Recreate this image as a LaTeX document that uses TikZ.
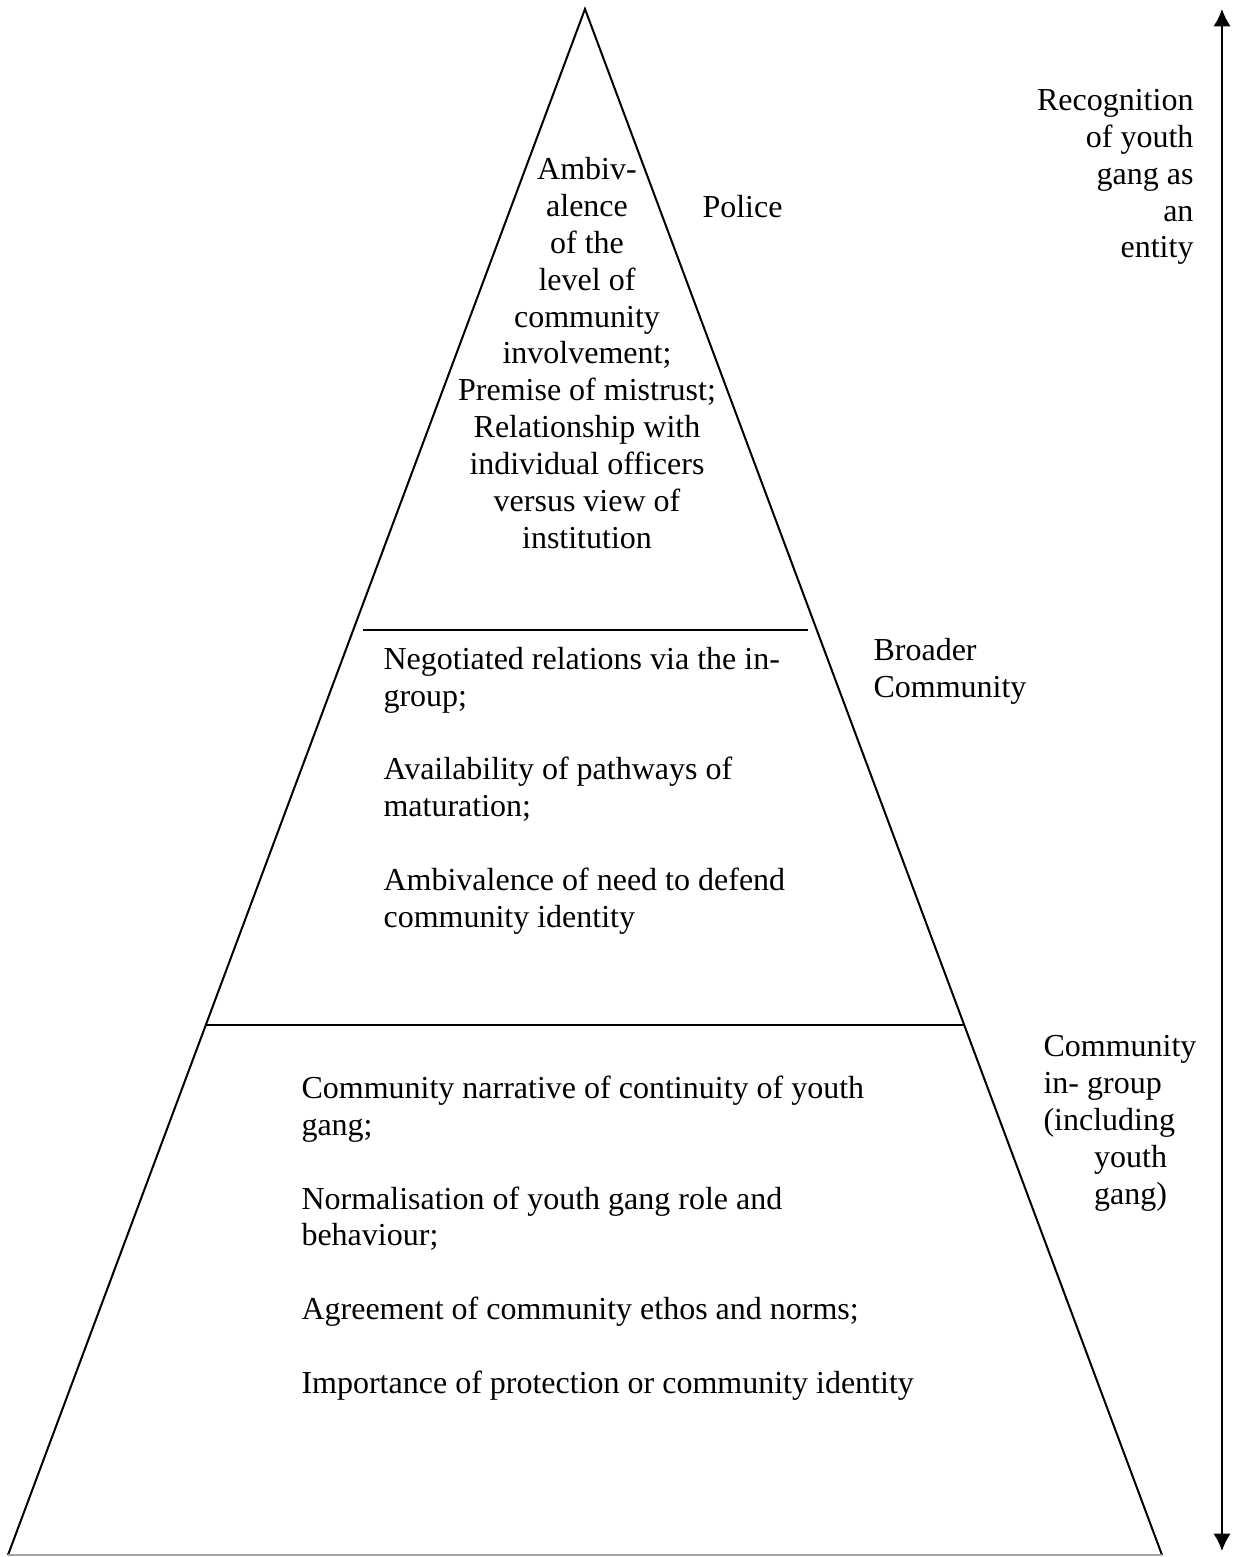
\documentclass[tikz,border=0pt]{standalone}
\usepackage{fontspec}
\setmainfont{Liberation Serif}
\usetikzlibrary{arrows.meta}

\tikzset{
    label text/.style={inner sep=0pt, font=\fontsize{12}{13.8}\selectfont},
    side/.style={line width=0.75pt, black},
}

\begin{document}
\begin{tikzpicture}[x=0.375pt, y=-0.375pt]
            \useasboundingbox (0,0) rectangle (1239,1557);
            % pyramid corners
            \coordinate (apex) at (585,9);
            \coordinate (bl) at (8,1555);
            \coordinate (br) at (1162,1555);
            \coordinate (midl) at (363,630);
            \coordinate (midr) at (808,630);
            \coordinate (lowl) at (206,1025);
            \coordinate (lowr) at (963,1025);
            \coordinate (top) at (1222,9);
            \coordinate (bottom) at (1222,1551);

            \draw[side] (bl) -- (apex) -- (br);
            \draw[line width=0.75pt, gray!70] (bl) -- (br);
            \draw[side] (midl) -- (midr);
            \draw[side] (lowl) -- (lowr);
            \draw[{Latex[length=6.5pt,width=6.5pt]}-{Latex[length=6.5pt,width=6.5pt]}, line width=0.75pt] (top) -- (bottom);

            % texts inside (base = last line)
            \node[label text, anchor=base, align=center] (police text) at (587,548)
                {Ambiv-\\alence\\of the\\level of\\community\\involvement;\\Premise of mistrust;\\Relationship with\\individual officers\\versus view of\\institution};
            \node[label text, anchor=base west, align=left] (broader text) at (383,927)
                {Negotiated relations via the in-\\group;\\[13.8pt]Availability of pathways of\\maturation;\\[13.8pt]Ambivalence of need to defend\\community identity};
            \node[label text, anchor=base west, align=left] (ingroup text) at (301,1393)
                {Community narrative of continuity of youth\\gang;\\[13.8pt]Normalisation of youth gang role and\\behaviour;\\[13.8pt]Agreement of community ethos and norms;\\[13.8pt]Importance of protection or community identity};

            % level labels
            \node[label text, anchor=base west] (police) at (702,218) {Police};
            \node[label text, anchor=base west, align=left] (broader) at (873,697) {Broader\\Community};
            \node[label text, anchor=base west, align=left] (ingroup) at (1043,1204)
                {Community\\in- group\\(including\\\hspace*{19pt}youth\\\hspace*{19pt}gang)};
            \node[label text, anchor=base east, align=right] (recognition) at (1194,258)
                {Recognition\\of youth\\gang as\\an\\entity};
        \end{tikzpicture}
\end{document}
